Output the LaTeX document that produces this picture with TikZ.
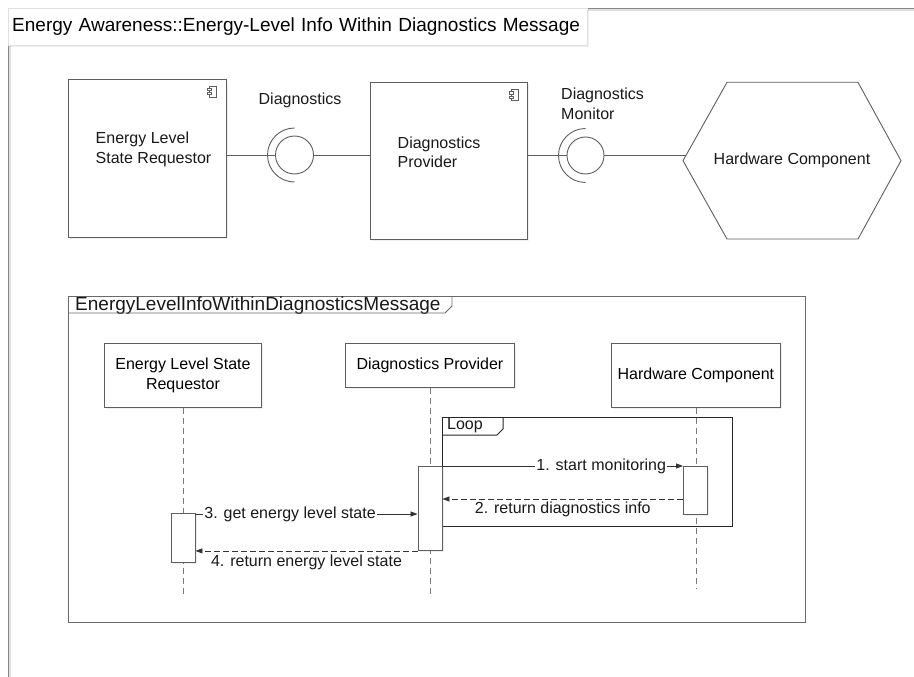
\documentclass[tikz,border=0pt]{standalone}
\usepackage{fontspec}
\setmainfont{Liberation Sans}
\usetikzlibrary{arrows.meta,shadows,calc}
\definecolor{boxgray}{HTML}{5E5E5E}
\definecolor{lifegray}{HTML}{7A7A7A}
\definecolor{framegray}{HTML}{6A6A6A}
\begin{document}
\begin{tikzpicture}[x=1bp,y=-1bp,
  txt/.style={font=\fontsize{16bp}{19.5bp}\selectfont, inner sep=0pt, text=black!90},
  bigtxt/.style={font=\fontsize{19bp}{22bp}\selectfont, inner sep=0pt, text=black!90},
  shad/.style={drop shadow={opacity=0.12,shadow xshift=1.5bp,shadow yshift=-2bp}},
  comp/.style={draw=boxgray, fill=white, line width=0.9bp, shad, inner sep=0pt},
  conn/.style={draw=boxgray, line width=0.9bp},
  head/.style={draw=boxgray, fill=white, line width=0.9bp, shad, inner sep=0pt, align=center, font=\fontsize{16bp}{19.5bp}\selectfont},
  act/.style={draw=boxgray, fill=white, line width=0.9bp, shad, inner sep=0pt, minimum width=24bp},
  life/.style={draw=lifegray, line width=0.8bp, dash pattern=on 6bp off 4bp},
  msg/.style={draw=black!80, line width=0.8bp, -{Triangle[length=7bp,width=5bp]}},
  msgd/.style={msg, dash pattern=on 6bp off 3bp},
  lab/.style={txt, fill=white, inner xsep=1bp},
  compicon/.pic={
    \draw[boxgray, line width=0.6bp] (-3,-5.5) rectangle (3.5,5.5);
    \draw[boxgray, line width=0.6bp, fill=white] (-5.5,-3.2) rectangle (-1,-1);
    \draw[boxgray, line width=0.6bp, fill=white] (-5.5,1) rectangle (-1,3.2);
  }
]
\useasboundingbox (0,0) rectangle (914,677);
\fill[white] (0,0) rectangle (914,677);

% outer frame
\draw[draw=black!12, line width=1.5bp] (10,677) -- (10,10) -- (914,10);
\draw[draw=framegray!80, line width=0.9bp] (8,677) -- (8,8) -- (914,8);
\node[draw=black!12, fill=white, shad, anchor=north west, minimum height=37bp, text width=571bp, inner xsep=4bp, inner ysep=0pt, align=left, font=\fontsize{19bp}{22bp}\selectfont] (title) at (8,8) {Energy Awareness::Energy-Level Info Within Diagnostics Message};

% ---------- component diagram ----------
\node[comp, minimum width=158bp, minimum height=158bp, anchor=north west] (c1) at (68,79) {};
\node[txt, align=left, anchor=west] (c1t) at (95.5,149.5) {Energy Level\\State Requestor};
\pic at (212.5,91.5) {compicon};

\node[comp, minimum width=157bp, minimum height=157bp, anchor=north west] (c2) at (370,82) {};
\node[txt, align=left, anchor=west] (c2t) at (397.5,152.5) {Diagnostics\\Provider};
\pic at (514.5,95) {compicon};

% interface 1
\node[circle, draw=boxgray, fill=white, line width=0.9bp, minimum size=38bp, inner sep=0pt] (b1) at (294.5,155) {};
\draw[conn] (b1.center) ++(0,27) arc[start angle=90, end angle=270, radius=27];
\node[txt] (b1l) at (300,100) {Diagnostics};
\draw[conn] (c1.east |- b1.west) -- (b1.west);
\draw[conn] (b1.east) -- (c2.west |- b1.east);

% interface 2
\node[circle, draw=boxgray, fill=white, line width=0.9bp, minimum size=37bp, inner sep=0pt] (b2) at (585.5,155.5) {};
\draw[conn] (b2.center) ++(0,27) arc[start angle=90, end angle=270, radius=27];
\node[txt, align=left, anchor=west] (b2l) at (561,104) {Diagnostics\\Monitor};
\draw[conn] (c2.east |- b2.west) -- (b2.west);

% hexagon
\draw[conn, fill=white] (683,160.7) -- (727,82.3) -- (858,82.3) -- (901,160.7) -- (858,239) -- (727,239) -- cycle;
\node[txt] (hw) at (792,160.5) {Hardware Component};
\coordinate (hexw) at (685.8,155.5);
\draw[conn] (b2.east) -- (hexw);

% ---------- sequence diagram ----------
\node[draw=framegray, line width=0.9bp, minimum width=737bp, minimum height=326bp, anchor=north west, inner sep=0pt] (sf) at (68,296) {};
\node[bigtxt, anchor=west] (sft) at (75,305.5) {EnergyLevelInfoWithinDiagnosticsMessage};
\draw[draw=framegray, line width=0.9bp] (68,313) -- (445,313) -- (452,306) -- (452,296);

\node[head, minimum width=157bp, minimum height=64bp, anchor=north west] (h1) at (104,343) {Energy Level State\\Requestor};
\node[head, minimum width=169bp, minimum height=44bp, anchor=north west] (h2) at (345,343) {Diagnostics Provider};
\node[head, minimum width=169bp, minimum height=64bp, anchor=north west] (h3) at (611,343) {Hardware Component};

\draw[life] (h1.south) -- ++(0,190);
\draw[life] (h2.south) -- ++(0,208);
\draw[life] (h3.south) -- ++(0,181);

% loop frame
\node[draw=black!85, line width=1.2bp, minimum width=290bp, minimum height=109bp, anchor=north west, inner sep=0pt] (loop) at (442,417) {};
\node[txt, anchor=west] (loopt) at (447,425.5) {Loop};
\draw[draw=black!85, line width=1bp] (442,435) -- (497,435) -- (503,429) -- (503,417);

% activations
\node[act, minimum height=48.5bp, anchor=north] (a1) at (183,513) {};
\node[act, minimum height=84bp, anchor=north] (a2) at (430,466) {};
\node[act, minimum height=47.5bp, anchor=north] (a3) at (695.5,466) {};

% messages
\draw[msg] (a2.north east) -- node[lab, pos=0.66] (m1) {1. start monitoring} (a3.north west);
\draw[msgd] (a3.west |- 0,499) -- node[txt, pos=0.5, yshift=-10.5bp] (m2) {2. return diagnostics info} (a2.east |- 0,499);
\draw[msg] (a1.east |- 0,514) -- node[lab, pos=0.426] (m3) {3. get energy level state} (a2.west |- 0,514);
\draw[msgd] (a2.south west) -- node[txt, pos=0.5, yshift=-11bp] (m4) {4. return energy level state} (a1.east |- a2.south west);
\end{tikzpicture}
\end{document}
